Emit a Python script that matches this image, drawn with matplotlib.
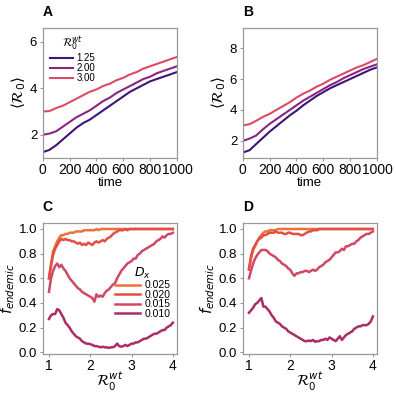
import numpy as np
import matplotlib.pyplot as plt

plt.rcParams['font.family'] = ['Liberation Sans', 'DejaVu Sans']
plt.rcParams['mathtext.fontset'] = 'dejavusans'

# time axis for panels A/B
time = [0, 50, 100, 150, 200, 250, 300, 350, 400, 450, 500,
        550, 600, 650, 700, 750, 800, 850, 900, 950, 1000]
r0_wt_labels = ['1.25', '2.00', '3.00']

A_125 = [1.25, 1.35, 1.55, 1.8, 2.05, 2.3, 2.5, 2.65, 2.85, 3.05, 3.25,
         3.45, 3.65, 3.85, 4.0, 4.15, 4.3, 4.4, 4.5, 4.6, 4.7]
A_200 = [2.0, 2.05, 2.15, 2.35, 2.55, 2.75, 2.9, 3.05, 3.25, 3.45, 3.6,
         3.8, 3.95, 4.1, 4.25, 4.4, 4.5, 4.65, 4.75, 4.85, 4.95]
A_300 = [3.0, 3.02, 3.15, 3.25, 3.4, 3.55, 3.7, 3.85, 3.95, 4.1, 4.2,
         4.35, 4.45, 4.6, 4.7, 4.85, 4.95, 5.05, 5.15, 5.25, 5.35]

B_125 = [1.25, 1.4, 1.8, 2.2, 2.6, 2.95, 3.3, 3.65, 3.95, 4.3, 4.6,
         4.9, 5.15, 5.4, 5.6, 5.8, 6.0, 6.2, 6.4, 6.6, 6.75]
B_200 = [2.0, 2.15, 2.35, 2.75, 3.1, 3.4, 3.7, 4.0, 4.3, 4.6, 4.85,
         5.1, 5.35, 5.6, 5.8, 6.05, 6.25, 6.45, 6.65, 6.8, 6.95]
B_300 = [3.0, 3.08, 3.3, 3.55, 3.75, 4.0, 4.25, 4.5, 4.8, 5.05, 5.25,
         5.5, 5.7, 5.95, 6.15, 6.35, 6.55, 6.75, 6.9, 7.1, 7.3]

# R0^wt grid for panels C/D (1.00 .. 4.00, step 0.05)
r0_wt = np.round(np.arange(1.0, 4.0001, 0.05), 2)
dx_labels = ['0.025', '0.020', '0.015', '0.010']

C_025 = [.60, .72, .82, .86, .90, .93, .95, .95, .96, .96, .97, .97, .97, .98, .98,
         .98, .98, .99, .99, .99, .99, .99, .99, 1.0, .99] + [1.0] * 36
C_020 = [.60, .70, .79, .84, .87, .90, .92, .91, .92, .91, .91, .90, .90, .89, .88,
         .89, .87, .88, .87, .89, .88, .87, .89, .90, .89, .90, .91, .90, .92, .93,
         .94, .96, .97, .98, .99, .99, .99, 1.0, .99, 1.0] + [1.0] * 21
C_015 = [.49, .60, .66, .70, .72, .69, .71, .68, .66, .63, .60, .58, .56, .54, .52,
         .51, .49, .48, .47, .46, .45, .44, .41, .47, .45, .46, .45, .48, .50, .51,
         .53, .55, .56, .60, .63, .66, .68, .70, .72, .73, .74, .76, .76, .79, .80,
         .82, .83, .84, .85, .86, .87, .88, .90, .91, .92, .94, .93, .95, .96, .96, .97]
C_010 = [.27, .30, .31, .31, .35, .34, .31, .28, .24, .22, .20, .17, .15, .13, .12,
         .11, .09, .08, .07, .07, .065, .06, .05, .05, .045, .04, .045, .04, .04, .035,
         .04, .04, .05, .07, .05, .045, .05, .06, .05, .06, .07, .07, .08, .08, .09,
         .10, .11, .11, .12, .13, .14, .15, .15, .16, .17, .18, .18, .20, .21, .22, .24]

D_025 = [.68, .76, .83, .86, .90, .93, .95, .97, .98, .98, .99, .99, .99, .99] + [1.0] * 47
D_020 = [.67, .78, .84, .87, .90, .92, .93, .95, .95, .96, .97, .97, .97, .98, .97,
         .97, .97, .96, .96, .97, .97, .96, .96, .96, .96, .95, .95, .96, .97, .98,
         .98, .99, .99, .99] + [1.0] * 27
D_015 = [.60, .66, .72, .76, .79, .81, .83, .83, .83, .82, .80, .79, .78, .77, .75,
         .74, .72, .71, .70, .68, .67, .64, .62, .64, .64, .65, .65, .66, .66, .65,
         .66, .67, .66, .67, .69, .70, .71, .73, .74, .75, .77, .79, .81, .81, .82,
         .84, .83, .86, .86, .87, .88, .88, .90, .91, .93, .94, .95, .96, .96, .97, .98]
D_010 = [.32, .34, .36, .39, .40, .42, .44, .37, .37, .35, .33, .30, .28, .25, .24,
         .23, .21, .20, .19, .17, .16, .15, .14, .13, .12, .11, .10, .09, .09, .095,
         .09, .10, .085, .09, .09, .10, .10, .11, .10, .12, .11, .10, .09, .11, .13,
         .10, .12, .14, .15, .16, .17, .19, .20, .21, .21, .22, .22, .22, .23, .25, .29]

r0_colors = ['#3f1478', '#8a2580', '#dc4a66']
dx_colors = ['#f07038', '#e24e44', '#cf4866', '#ab2c66']
spine_col = '#999999'

fig = plt.figure(figsize=(3.96, 3.93), dpi=100)
axA = fig.add_axes([0.108, 0.598, 0.339, 0.331])
axB = fig.add_axes([0.613, 0.598, 0.339, 0.331])
axC = fig.add_axes([0.108, 0.099, 0.339, 0.334])
axD = fig.add_axes([0.613, 0.099, 0.339, 0.334])


def style(ax):
    for s in ax.spines.values():
        s.set_color(spine_col)
        s.set_linewidth(0.9)
    ax.tick_params(colors=spine_col, labelcolor='black', length=2.5, width=0.8)
    ax.tick_params(axis='x', labelsize=10, pad=1)
    ax.tick_params(axis='y', labelsize=9.5, pad=1.5)


# top row
for ax, series in [(axA, [A_125, A_200, A_300]), (axB, [B_125, B_200, B_300])]:
    for y, c, lab in zip(series, r0_colors, r0_wt_labels):
        ax.plot(time, y, color=c, lw=1.5, label=lab)
    ax.set_xlim(0, 1000)
    ax.set_xticks([0, 200, 400, 600, 800, 1000])
    ax.set_xlabel('time', fontsize=9.5, labelpad=0)
    ax.set_ylabel(r'$\langle\mathcal{R}_0\rangle$', fontsize=11, labelpad=1)
    style(ax)
axA.set_ylim(1.0, 6.6)
axA.set_yticks([2, 4, 6])
axB.set_ylim(0.9, 9.3)
axB.set_yticks([2, 4, 6, 8])
axA.legend(title=r'$\mathcal{R}_0^{wt}$', loc='upper left', frameon=False,
           fontsize=7, title_fontsize=8, handlelength=2.4,
           labelspacing=0.0, borderaxespad=0.3, handletextpad=0.4)

# bottom row
for ax, series in [(axC, [C_025, C_020, C_015, C_010]), (axD, [D_025, D_020, D_015, D_010])]:
    for y, c, lab in zip(series, dx_colors, dx_labels):
        ax.plot(r0_wt, y, color=c, lw=1.8, label=lab)
    ax.set_xlim(0.85, 4.1)
    ax.set_ylim(-0.015, 1.05)
    ax.set_xticks([1, 2, 3, 4])
    ax.set_yticks([0.0, 0.2, 0.4, 0.6, 0.8, 1.0])
    ax.set_xlabel(r'$\mathcal{R}_0^{wt}$', fontsize=10.5, labelpad=-2)
    ax.set_ylabel(r'$f_{endemic}$', fontsize=10.5, labelpad=1)
    style(ax)
axC.legend(title=r'$D_x$', loc='center right', bbox_to_anchor=(1.02, 0.47), frameon=False,
           fontsize=7.5, title_fontsize=9, handlelength=2.4, labelspacing=-0.05,
           handletextpad=0.4)

for ax, lab in zip([axA, axB, axC, axD], 'ABCD'):
    ax.text(0.0, 1.12, lab, transform=ax.transAxes, fontsize=10, fontweight='bold',
            ha='left', va='center')

fig.savefig('out.png', dpi=100)
